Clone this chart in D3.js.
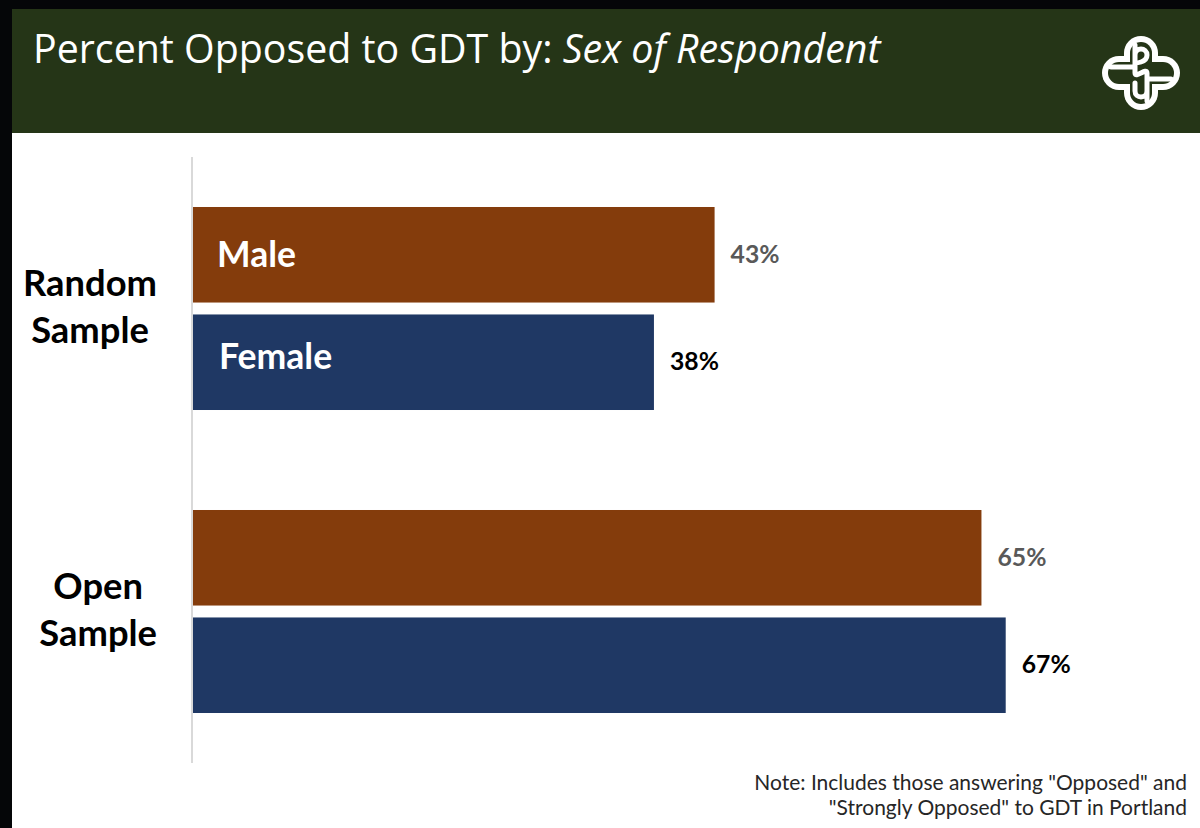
<!DOCTYPE html>
<html>
<head>
<meta charset="utf-8">
<script src="https://cdn.jsdelivr.net/npm/d3@7"></script>
<style>
  html, body { margin: 0; padding: 0; background: #000; }
  svg { display: block; }
</style>
</head>
<body>
<script>
// ---- data ----
const categories = ["Random Sample", "Open Sample"];
const categoryLines = [["Random", "Sample"], ["Open", "Sample"]];
const seriesNames = ["Male", "Female"];
const maleValues = [43, 65];
const femaleValues = [38, 67];
const valueLabels = [["43%", "38%"], ["65%", "67%"]];
const titleMain = "Percent Opposed to GDT by: ";
const titleItalic = "Sex of Respondent";
const noteLines = ["Note: Includes those answering \"Opposed\" and", "\"Strongly Opposed\" to GDT in Portland"];

const W = 1200, H = 828;
const colors = { Male: "#843c0c", Female: "#1f3864" };
const labelColors = { Male: "#595959", Female: "#000000" };

const svg = d3.select("body").append("svg").attr("width", W).attr("height", H);

// frame
svg.append("rect").attr("x", 0).attr("y", 0).attr("width", W).attr("height", H).attr("fill", "#050608");
svg.append("rect").attr("x", 12).attr("y", 133).attr("width", W - 12).attr("height", H - 133).attr("fill", "#ffffff");
svg.append("rect").attr("x", 12).attr("y", 9).attr("width", W - 12).attr("height", 124).attr("fill", "#253517");

function fit(sel, target) {
  const node = sel.node();
  const fs = parseFloat(sel.attr("font-size"));
  const w = node.getBBox().width;
  const nfs = fs * target / w;
  sel.attr("font-size", nfs);
  return nfs;
}

// title
const title = svg.append("text").attr("x", 33).attr("y", 63)
  .attr("font-family", "'Open Sans', 'Noto Sans', sans-serif").attr("font-size", 36)
  .attr("fill", "#ffffff");
title.append("tspan").text(titleMain);
title.append("tspan").attr("font-style", "italic").text(titleItalic);
fit(title, 849);

// logo
const logo = svg.append("g").attr("transform", "translate(1141,73)");
logo.append("rect").attr("x", -17).attr("y", -37).attr("width", 34).attr("height", 74).attr("rx", 17).attr("fill", "#fff");
logo.append("rect").attr("x", -39).attr("y", -17).attr("width", 78).attr("height", 34).attr("rx", 17).attr("fill", "#fff");
logo.append("rect").attr("x", -11).attr("y", -31).attr("width", 22).attr("height", 62).attr("rx", 11).attr("fill", "#253517");
logo.append("rect").attr("x", -33).attr("y", -11).attr("width", 66).attr("height", 22).attr("rx", 11).attr("fill", "#253517");
logo.append("path")
  .attr("d", "M-6,-28 L-6,0 C-6,6 6,-6 6,0 L6,28 M-6,-18 C-6,-26 6,-26 6,-18 C6,-10 -6,-10 -6,-10 M6,18 C6,26 -6,26 -6,18 L-6,10 M-30,-6 L-6,-6 M6,6 L30,6")
  .attr("fill", "none").attr("stroke", "#fff").attr("stroke-width", 5).attr("stroke-linecap", "round");

// scales
const x = d3.scaleLinear().domain([0, 100]).range([193, 193 + 1213]);
const y0 = d3.scaleBand().domain(categories).range([157, 763]).paddingInner(0.33).paddingOuter(0.165);
const y1 = d3.scaleBand().domain(seriesNames).range([0, y0.bandwidth()]).paddingInner(0.111).paddingOuter(0);

const rows = [];
categories.forEach((c, i) => {
  rows.push({ cat: c, s: "Male", v: maleValues[i], label: valueLabels[i][0], ci: i });
  rows.push({ cat: c, s: "Female", v: femaleValues[i], label: valueLabels[i][1], ci: i });
});

// axis line
svg.append("line").attr("x1", 192).attr("x2", 192).attr("y1", 157).attr("y2", 763)
  .attr("stroke", "#d9d9d9").attr("stroke-width", 2);

// bars
svg.selectAll("rect.bar").data(rows).join("rect").attr("class", "bar")
  .attr("x", x(0))
  .attr("y", d => y0(d.cat) + y1(d.s))
  .attr("width", d => x(d.v) - x(0))
  .attr("height", y1.bandwidth())
  .attr("fill", d => colors[d.s]);

// value labels
const vl = svg.selectAll("text.val").data(rows).join("text").attr("class", "val")
  .attr("x", d => x(d.v) + 16)
  .attr("y", d => y0(d.cat) + y1(d.s) + y1.bandwidth() / 2 + 8)
  .attr("font-family", "Lato, 'Open Sans', sans-serif").attr("font-weight", "bold")
  .attr("font-size", 24)
  .attr("fill", d => labelColors[d.s])
  .text(d => d.label);
const vfs = fit(d3.select(vl.nodes()[0]), 49);
vl.attr("font-size", vfs);

// in-bar series labels (first category only)
const inl = svg.selectAll("text.ser").data(rows.filter(d => d.ci === 0)).join("text").attr("class", "ser")
  .attr("x", d => d.s === "Male" ? 217 : 219)
  .attr("y", d => y0(d.cat) + y1(d.s) + y1.bandwidth() / 2 + (d.s === "Male" ? 12 : 7))
  .attr("font-family", "Lato, 'Open Sans', sans-serif").attr("font-weight", "bold")
  .attr("font-size", 32)
  .attr("fill", "#ffffff")
  .text(d => d.s);
const sfs = fit(d3.select(inl.nodes()[0]), 79);
inl.attr("font-size", sfs);

// category labels
let cfs = 32;
categories.forEach((c, i) => {
  const cy = y0(c) + y0.bandwidth() / 2;
  const g = svg.append("g");
  const lines = categoryLines[i];
  const texts = lines.map((ln, k) => g.append("text")
    .attr("y", cy + (k === 0 ? -24 : 23) + 11)
    .attr("font-family", "Lato, 'Open Sans', sans-serif").attr("font-weight", "bold")
    .attr("font-size", cfs).attr("fill", "#000").attr("text-anchor", "middle")
    .text(ln));
  if (i === 0) { cfs = fit(texts[0], 134); texts.forEach(t => t.attr("font-size", cfs)); }
  const bw = d3.max(texts, t => t.node().getBBox().width);
  texts.forEach(t => t.attr("x", 157 - bw / 2));
});

// note
const notes = noteLines.map((ln, k) => svg.append("text")
  .attr("x", 1187).attr("y", 790 + k * 25).attr("text-anchor", "end")
  .attr("font-family", "Lato, 'Open Sans', sans-serif").attr("font-size", 20)
  .attr("fill", "#262626").text(ln));
const nfs = fit(notes[0], 433);
notes.forEach(n => n.attr("font-size", nfs));
</script>
</body>
</html>
